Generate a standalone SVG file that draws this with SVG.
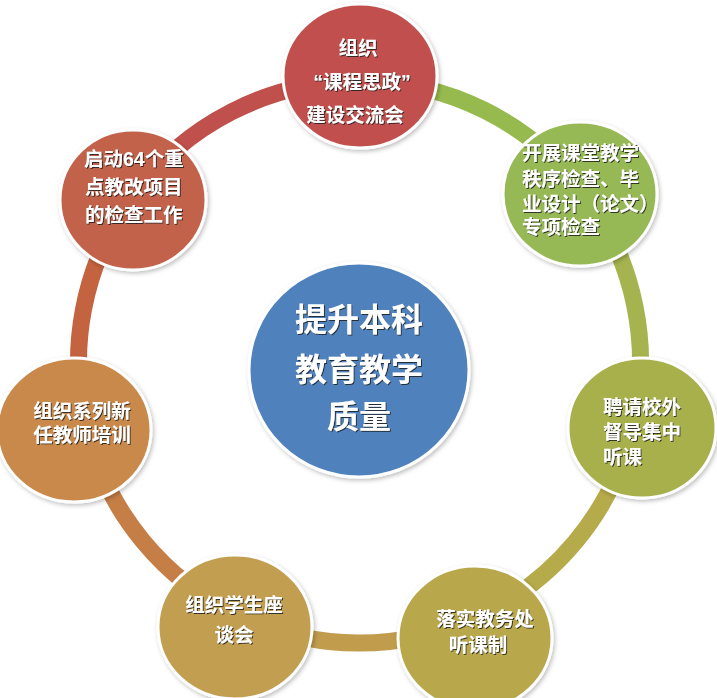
<svg xmlns="http://www.w3.org/2000/svg" width="717" height="698" viewBox="0 0 717 698">
<defs>
<filter id="sh" x="-20%" y="-20%" width="140%" height="140%">
<feDropShadow dx="1.5" dy="2" stdDeviation="2" flood-color="#000" flood-opacity="0.25"/>
</filter>
<filter id="ts" x="-10%" y="-30%" width="120%" height="160%">
<feDropShadow dx="1" dy="1" stdDeviation="0.6" flood-color="#222" flood-opacity="0.85"/>
</filter>
</defs>
<style>
.ring{fill:none;stroke-width:17;stroke-linecap:butt}
.node{stroke:#fff;stroke-width:3;filter:url(#sh)}
.t{font-family:"Liberation Sans","Noto Sans CJK SC",sans-serif;font-weight:bold;fill:#fff;font-size:19.5px;filter:url(#ts)}
.m{text-anchor:middle}
.c{font-size:32px}
</style>
<rect width="717" height="698" fill="#fff"/>
<g id="connectors">
<path class="ring" stroke="#97ba4e" d="M359.5,81 A281,281 0 0 1 583.7,192.6"/>
<path class="ring" stroke="#a6b44f" d="M583.7,192.6 A281,281 0 0 1 632.2,429.8"/>
<path class="ring" stroke="#b6ab4a" d="M632.2,429.8 A281,281 0 0 1 474.8,618.2"/>
<path class="ring" stroke="#c19c4d" d="M474.8,618.2 A281,281 0 0 1 240.3,616.5"/>
<path class="ring" stroke="#c67e47" d="M240.3,616.5 A281,281 0 0 1 87.2,431.2"/>
<path class="ring" stroke="#c4633f" d="M87.2,431.2 A281,281 0 0 1 131.9,197.2"/>
<path class="ring" stroke="#c0504b" d="M131.9,197.2 A281,281 0 0 1 359.5,81"/>
</g>
<g id="center">
<ellipse class="node" cx="359" cy="370" rx="110" ry="107" fill="#4f81bd"/>
<text class="t m c" x="359" y="331">提升本科</text>
<text class="t m c" x="359" y="381">教育教学</text>
<text class="t m c" x="359" y="428">质量</text>
</g>
<g id="n1">
<ellipse class="node" cx="360" cy="76" rx="77" ry="72" fill="#c0504d"/>
<text class="t m" x="358" y="55">组织</text>
<text class="t m" x="362" y="89">“课程思政”</text>
<text class="t m" x="355" y="122">建设交流会</text>
</g>
<g id="n2">
<ellipse class="node" cx="580" cy="194" rx="77" ry="72" fill="#97b955"/>
<text class="t" x="522" y="160">开展课堂教学</text>
<text class="t" x="522" y="186">秩序检查、毕</text>
<text class="t" x="522" y="211">业设计（论文）</text>
<text class="t" x="522" y="234">专项检查</text>
</g>
<g id="n3">
<ellipse class="node" cx="642" cy="428" rx="74" ry="70" fill="#a8b04c"/>
<text class="t" x="603" y="414">聘请校外</text>
<text class="t" x="603" y="439">督导集中</text>
<text class="t" x="603" y="464">听课</text>
</g>
<g id="n4">
<ellipse class="node" cx="475" cy="638" rx="77" ry="72" fill="#b8a74c"/>
<text class="t m" x="485" y="626">落实教务处</text>
<text class="t m" x="478" y="652">听课制</text>
</g>
<g id="n5">
<ellipse class="node" cx="235" cy="627" rx="77" ry="72" fill="#c29e51"/>
<text class="t m" x="234" y="612">组织学生座</text>
<text class="t m" x="234" y="642">谈会</text>
</g>
<g id="n6">
<ellipse class="node" cx="74" cy="430" rx="77" ry="72" fill="#c9894c"/>
<text class="t m" x="82" y="418">组织系列新</text>
<text class="t m" x="82" y="442">任教师培训</text>
</g>
<g id="n7">
<ellipse class="node" cx="133" cy="200" rx="73" ry="70" fill="#c2624b"/>
<text class="t" x="84" y="166">启动64个重</text>
<text class="t" x="85" y="194">点教改项目</text>
<text class="t" x="85" y="222">的检查工作</text>
</g>
</svg>
